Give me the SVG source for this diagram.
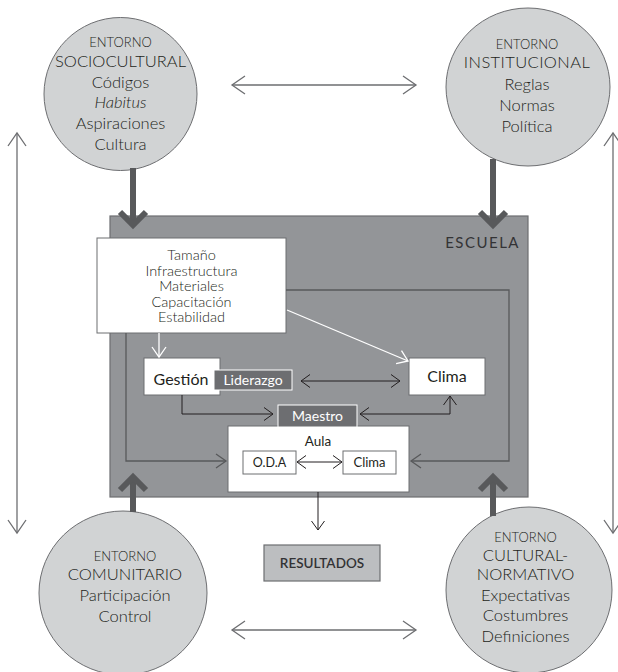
<svg xmlns="http://www.w3.org/2000/svg" width="618" height="672" viewBox="0 0 618 672">
<style>
text{font-family:Lato,"Noto Sans",sans-serif;fill:#414042;text-anchor:middle}
.circ{fill:#d1d3d4;stroke:#6d6e71;stroke-width:1}
.ct{font-weight:300;fill:#231f20}
.t13{font-size:13px}
.t14{font-size:14.5px}
.ttl{font-size:16.5px}
.it{font-size:16.5px}
.box{fill:#ffffff;stroke:#6d6e71;stroke-width:1}
.dbox{fill:#6d6e71;stroke:#ffffff;stroke-width:1}
.thick{fill:none;stroke:#58595b;stroke-width:6}
.gl{fill:none;stroke:#6d6e71;stroke-width:1.3}
.fl{fill:none;stroke:#58595b;stroke-width:1.3}
.dl{fill:none;stroke:#231f20;stroke-width:1}
.wl{fill:none;stroke:#ffffff;stroke-width:1.3}
</style>
<defs>
<marker id="mg" markerUnits="userSpaceOnUse" viewBox="-15 -11 17 22" markerWidth="17" markerHeight="22" refX="0" refY="0" orient="auto-start-reverse" style="overflow:visible"><path d="M-13,-9 L0,0 L-13,9" fill="none" stroke="#6d6e71" stroke-width="1.3"/></marker>
<marker id="mf" markerUnits="userSpaceOnUse" viewBox="-12 -8 13 16" markerWidth="13" markerHeight="16" refX="0" refY="0" orient="auto-start-reverse" style="overflow:visible"><path d="M-10,-7 L0,0 L-10,7" fill="none" stroke="#58595b" stroke-width="1.3"/></marker>
<marker id="md" markerUnits="userSpaceOnUse" viewBox="-11 -8 12 16" markerWidth="12" markerHeight="16" refX="0" refY="0" orient="auto-start-reverse" style="overflow:visible"><path d="M-9,-6.5 L0,0 L-9,6.5" fill="none" stroke="#231f20" stroke-width="1"/></marker>
<marker id="mw" markerUnits="userSpaceOnUse" viewBox="-12 -8 13 16" markerWidth="13" markerHeight="16" refX="0" refY="0" orient="auto-start-reverse" style="overflow:visible"><path d="M-10,-7 L0,0 L-10,7" fill="none" stroke="#ffffff" stroke-width="1.3"/></marker>
</defs>

<g id="escuela">
<rect x="110" y="216" width="418" height="281" fill="#939598" stroke="#6d6e71" stroke-width="1.2"/>
<text x="520" y="248" style="font-size:15px;letter-spacing:1.5px;text-anchor:end;fill:#333335">ESCUELA</text>
</g>

<g id="entorno-sociocultural">
<circle class="circ" cx="120.5" cy="94" r="76.5"/>
<text class="ct t13" x="120.5" y="47">ENTORNO</text>
<text class="ct ttl" x="120.5" y="66.5">SOCIOCULTURAL</text>
<text class="ct it" x="120.5" y="88">Códigos</text>
<text class="ct it" x="120.5" y="108" font-style="italic">Habitus</text>
<text class="ct it" x="120.5" y="129">Aspiraciones</text>
<text class="ct it" x="120.5" y="150">Cultura</text>
</g>

<g id="entorno-institucional">
<ellipse class="circ" cx="528" cy="87" rx="82" ry="79"/>
<text class="ct t13" x="527" y="49">ENTORNO</text>
<text class="ct ttl" x="527" y="68" style="letter-spacing:0.4px">INSTITUCIONAL</text>
<text class="ct it" x="527" y="90">Reglas</text>
<text class="ct it" x="527" y="111">Normas</text>
<text class="ct it" x="527" y="132">Política</text>
</g>

<g id="entorno-comunitario">
<ellipse class="circ" cx="123" cy="593" rx="84" ry="82"/>
<text class="ct t13" x="125" y="561">ENTORNO</text>
<text class="ct ttl" x="125" y="579.5">COMUNITARIO</text>
<text class="ct it" x="125" y="601">Participación</text>
<text class="ct it" x="125" y="622">Control</text>
</g>

<g id="entorno-cultural-normativo">
<ellipse class="circ" cx="529" cy="590" rx="83" ry="83"/>
<text class="ct t13" x="525.5" y="542">ENTORNO</text>
<text class="ct ttl" x="525.5" y="561">CULTURAL-</text>
<text class="ct ttl" x="525.5" y="580">NORMATIVO</text>
<text class="ct it" x="525.5" y="601">Expectativas</text>
<text class="ct it" x="525.5" y="621">Costumbres</text>
<text class="ct it" x="525.5" y="642">Definiciones</text>
</g>

<g id="recursos">
<rect class="box" x="97" y="238" width="189" height="95"/>
<text class="ct t14" x="191.5" y="260">Tamaño</text>
<text class="ct t14" x="191.5" y="275.5">Infraestructura</text>
<text class="ct t14" x="191.5" y="291">Materiales</text>
<text class="ct t14" x="191.5" y="306.5">Capacitación</text>
<text class="ct t14" x="191.5" y="322">Estabilidad</text>
</g>

<g id="gestion">
<rect class="box" x="144" y="358" width="76" height="37"/>
<text x="181" y="385" style="font-size:16px;fill:#231f20">Gestión</text>
</g>

<g id="liderazgo">
<rect class="dbox" x="214" y="370" width="78" height="20"/>
<text x="253" y="385" style="font-size:14px;fill:#ffffff">Liderazgo</text>
</g>

<g id="clima">
<rect class="box" x="409" y="358" width="76" height="37"/>
<text x="447" y="382" style="font-size:16px;fill:#231f20">Clima</text>
</g>

<g id="aula">
<rect class="box" x="228" y="426" width="181" height="66"/>
<text x="318" y="446" style="font-size:13.5px;fill:#231f20">Aula</text>
</g>

<g id="maestro">
<rect class="dbox" x="278" y="405" width="79" height="22"/>
<text x="317.5" y="421" style="font-size:14px;fill:#ffffff">Maestro</text>
</g>

<g id="oda">
<rect class="box" x="243" y="451" width="53" height="23"/>
<text x="269.5" y="467" style="font-size:12.5px;fill:#231f20">O.D.A</text>
</g>

<g id="clima-aula">
<rect class="box" x="343" y="451" width="53" height="23"/>
<text x="369.5" y="467" style="font-size:13px;fill:#231f20">Clima</text>
</g>

<g id="resultados">
<rect x="264" y="545" width="116" height="36" fill="#bcbec0" stroke="#6d6e71" stroke-width="1.2"/>
<text x="322" y="568" style="font-size:13.5px;font-weight:600;fill:#333335">RESULTADOS</text>
</g>

<g id="connectors">
<path class="thick" d="M133,168 V224"/>
<polyline class="thick" points="120,212 133,225 146,212"/>
<path class="thick" d="M493,159 V224"/>
<polyline class="thick" points="480,212 493,225 506,212"/>
<path class="thick" d="M133,512 V478"/>
<polyline class="thick" points="120,490 133,477 146,490"/>
<path class="thick" d="M493,516 V478"/>
<polyline class="thick" points="480,490 493,477 506,490"/>
<path class="gl" d="M232,85 H416" marker-start="url(#mg)" marker-end="url(#mg)"/>
<path class="gl" d="M232,630 H416" marker-start="url(#mg)" marker-end="url(#mg)"/>
<path class="gl" d="M17,133 V533" marker-start="url(#mg)" marker-end="url(#mg)"/>
<path class="gl" d="M613,133 V533" marker-start="url(#mg)" marker-end="url(#mg)"/>
<path class="fl" d="M126,333 V461 H226" marker-end="url(#mf)"/>
<path class="fl" d="M286,290 H509 V461 H411" marker-end="url(#mf)"/>
<path class="wl" d="M159,333 V357" marker-end="url(#mw)"/>
<path class="wl" d="M287,310 L408,361" marker-end="url(#mw)"/>
<path class="dl" d="M301,381 H400" marker-start="url(#md)" marker-end="url(#md)"/>
<path class="dl" d="M182,395 V414 H273" marker-end="url(#md)"/>
<path class="dl" d="M360,414 H450 V396" marker-start="url(#md)" marker-end="url(#md)"/>
<path class="dl" d="M297,462 H342" marker-start="url(#md)" marker-end="url(#md)"/>
<path class="dl" d="M318,492 V530" marker-end="url(#md)"/>
</g>
</svg>
